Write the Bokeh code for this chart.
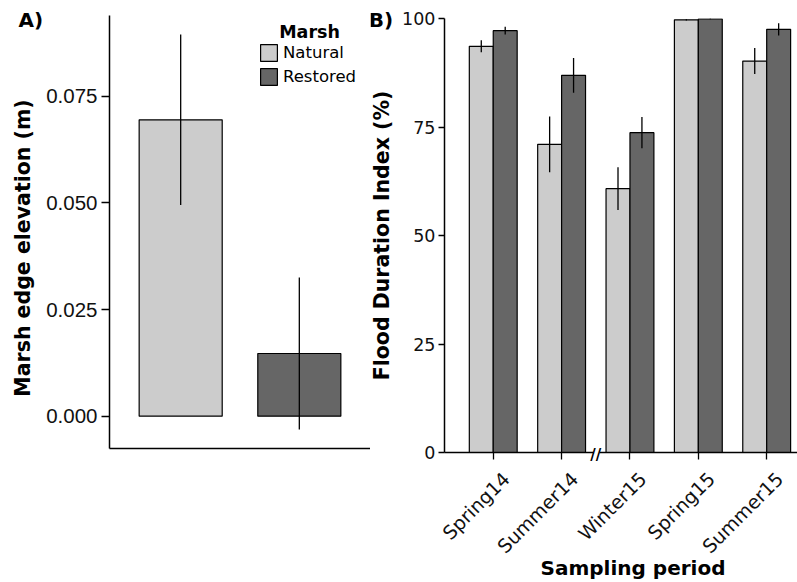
import numpy as np
from bokeh.plotting import figure
from bokeh.models import (Range1d, FixedTicker, Legend, LegendItem, Label,
                          NumeralTickFormatter, LinearAxis)
from bokeh.layouts import row, column
from bokeh.embed import file_html
from bokeh.resources import INLINE

# ---------------- data ----------------
marsh = ["Natural", "Restored"]
elev_mean = [0.0695, 0.0147]
elev_se = [0.0200, 0.0178]
elev_ticks = [0.0, 0.025, 0.050, 0.075]

periods = ["Spring14", "Summer14", "Winter15", "Spring15", "Summer15"]
fdi_natural = [93.6, 71.0, 60.8, 99.7, 90.2]
fdi_natural_se = [1.4, 6.4, 4.9, 0.15, 3.0]
fdi_restored = [97.2, 86.9, 73.7, 99.9, 97.5]
fdi_restored_se = [0.9, 4.0, 3.6, 0.1, 1.4]
fdi_ticks = [0, 25, 50, 75, 100]
break_after = "Summer14"

fill = {"Natural": "#cccccc", "Restored": "#666666"}
SANS = "DejaVu Sans"
ROW_H = 570          # top row (panels); the bottom strip overlaps its last 14 px
BOT_TOP = 556        # page y where the bottom text strip starts
MID = 0.346  # (ascent - descent) / 2 of DejaVu Sans, in em


def blank(width, height, x0, y_top=0):
    """figure used only as a text canvas (data units = page pixels)"""
    f = figure(width=width, height=height, x_range=Range1d(x0, x0 + width),
               y_range=Range1d(y_top + height, y_top), output_backend="svg",
               toolbar_location=None, x_axis_location=None, y_axis_location=None,
               min_border=0, frame_align=False)
    f.outline_line_color = None
    f.grid.visible = False
    return f


def bold_label(x, y, text, size=20.0, align="left", angle=0):
    return Label(x=x, y=y, text=text, text_font=SANS, text_font_style="bold",
                 text_font_size=f"{size}px", text_color="black", text_align=align,
                 text_baseline="middle", angle=angle)


# ---------------- left text strip (A) ----------------
fa = blank(43, ROW_H, 0)
fa.add_layout(bold_label(18, 26.7 - MID * 20, "A)"))
fa.add_layout(bold_label(29.8 - MID * 20.5, 247.5, "Marsh edge elevation (m)",
                         size=20.5, align="center", angle=np.pi / 2))

# ---------------- panel A ----------------
A_W = 327
A_L, A_R, A_T = 64, 0, 15
A_B = ROW_H - 448
A_FW, A_FH = A_W - A_L - A_R, ROW_H - A_T - A_B
xa = Range1d(0.4, 2.6)
ya = Range1d(-0.00757, 0.09396)

pa = figure(width=A_W, height=ROW_H, x_range=xa, y_range=ya,
            output_backend="svg", toolbar_location=None, frame_align=False,
            min_border_left=A_L, min_border_right=A_R,
            min_border_top=A_T, min_border_bottom=A_B)
pa.outline_line_color = None
pa.grid.visible = False

xpos = np.arange(1, len(marsh) + 1)
rends = []
for i, m in enumerate(marsh):
    r = pa.vbar(x=[xpos[i]], top=[elev_mean[i]], bottom=0, width=0.7,
                fill_color=fill[m], line_color="black", line_width=1.2)
    rends.append(r)
pa.segment(x0=xpos, y0=[m - s for m, s in zip(elev_mean, elev_se)],
           x1=xpos, y1=[m + s for m, s in zip(elev_mean, elev_se)],
           line_color="black", line_width=1.3)

pa.xaxis.ticker = FixedTicker(ticks=[])
pa.xaxis.axis_line_width = 1.5
pa.xaxis.major_tick_line_color = None
pa.xaxis.minor_tick_line_color = None

pa.yaxis.ticker = FixedTicker(ticks=elev_ticks)
pa.yaxis.formatter = NumeralTickFormatter(format="0.000")
pa.yaxis.axis_line_width = 1.5
pa.yaxis.major_tick_line_width = 1.3
pa.yaxis.major_tick_out = 8
pa.yaxis.major_tick_in = 0
pa.yaxis.minor_tick_line_color = None
pa.yaxis.major_label_standoff = 4
pa.yaxis.major_label_text_font = "Liberation Sans"
pa.yaxis.major_label_text_font_size = "20.5px"
pa.yaxis.major_label_text_color = "#111111"

FRAME_A_LEFT = 43 + A_L


def ax_of(px):  # page x -> data x (panel A)
    return xa.start + (px - FRAME_A_LEFT) * (xa.end - xa.start) / A_FW


def ay_of(py):  # page y -> data y (panel A)
    return ya.start + (A_T + A_FH - py) * (ya.end - ya.start) / A_FH


legend = Legend(items=[LegendItem(label=m, renderers=[r]) for m, r in zip(marsh, rends)],
                location=(149, 361),
                label_text_font=SANS, label_text_font_size="16.5px", label_text_color="black",
                glyph_width=21, glyph_height=21, label_height=21, spacing=3,
                padding=0, margin=0, label_standoff=4,
                border_line_color=None, background_fill_alpha=0)
pa.add_layout(legend)
pa.add_layout(bold_label(ax_of(278), ay_of(37.5 - MID * 17.5), "Marsh", size=17.5))

# ---------------- middle text strip (B) ----------------
fb = blank(29, ROW_H, 370)
fb.add_layout(bold_label(392.7, 26.0 - MID * 20, "B)", align="right"))
fb.add_layout(bold_label(388.3 - MID * 20.5, 235.0, "Flood Duration Index (%)",
                         size=20.5, align="center", angle=np.pi / 2))

# ---------------- panel B ----------------
B_W = 398
B_L, B_R, B_T = 43, 0, 18
B_B = ROW_H - 452
B_FW, B_FH = B_W - B_L - B_R, ROW_H - B_T - B_B
xb = Range1d(0.287, 0.287 + B_FW / 68.75)
yb = Range1d(0, 100)
PXU = B_FW / (xb.end - xb.start)  # pixels per x unit

pb = figure(width=B_W, height=ROW_H, x_range=xb, y_range=yb,
            output_backend="svg", toolbar_location=None, frame_align=False,
            min_border_left=B_L, min_border_right=B_R,
            min_border_top=B_T, min_border_bottom=B_B)
pb.outline_line_color = None
pb.grid.visible = False

idx = np.arange(1, len(periods) + 1)
dodge = 0.175
pb.vbar(x=idx - dodge, top=fdi_natural, bottom=0, width=0.35,
        fill_color=fill["Natural"], line_color="black", line_width=1.2)
pb.vbar(x=idx + dodge, top=fdi_restored, bottom=0, width=0.35,
        fill_color=fill["Restored"], line_color="black", line_width=1.2)
for off, mean, se in [(-dodge, fdi_natural, fdi_natural_se), (dodge, fdi_restored, fdi_restored_se)]:
    xs = idx + off
    pb.segment(x0=xs, y0=[m - s for m, s in zip(mean, se)],
               x1=xs, y1=[min(m + s, 100) for m, s in zip(mean, se)],
               line_color="black", line_width=1.3)

# axis 1: line (with a gap at the break) and tick marks
xc = float(periods.index(break_after) + 1.5)
gap_start = int(round((xc - xb.start) * PXU - 3))
tick_axis = pb.xaxis[0]
tick_axis.ticker = FixedTicker(ticks=[float(i) for i in idx])
tick_axis.major_label_overrides = {float(i): "" for i in idx}
tick_axis.major_label_text_font_size = "0px"
tick_axis.major_label_standoff = 0
tick_axis.axis_line_width = 1.5
tick_axis.axis_line_dash = f"{gap_start} 6 2000"
tick_axis.major_tick_line_width = 1.3
tick_axis.major_tick_out = 7
tick_axis.major_tick_in = 0
tick_axis.minor_tick_line_color = None

# axis 2: the break mark
brk_axis = LinearAxis(ticker=FixedTicker(ticks=[xc]), major_label_overrides={xc: "//"},
                      axis_line_color=None, major_tick_line_color=None,
                      minor_tick_line_color=None, major_tick_out=0, major_tick_in=0,
                      major_label_standoff=-14, major_label_text_font=SANS,
                      major_label_text_font_style="bold", major_label_text_font_size="15px",
                      major_label_text_color="black")
pb.add_layout(brk_axis, "below")

# axis 3: rotated sampling-period labels
shift = 13 / PXU
label_pos = [round(float(i) + shift, 6) for i in idx]
lab_axis = LinearAxis(ticker=FixedTicker(ticks=label_pos),
                      major_label_overrides={p: s for p, s in zip(label_pos, periods)},
                      axis_line_color=None, major_tick_line_color=None,
                      minor_tick_line_color=None, major_tick_out=0, major_tick_in=0,
                      major_label_standoff=9, major_label_orientation=np.pi / 4,
                      major_label_text_font=SANS, major_label_text_font_size="19px",
                      major_label_text_color="#111111")
pb.add_layout(lab_axis, "below")

pb.yaxis.ticker = FixedTicker(ticks=fdi_ticks)
pb.yaxis.axis_line_width = 1.5
pb.yaxis.major_tick_line_width = 1.3
pb.yaxis.major_tick_out = 6
pb.yaxis.major_tick_in = 0
pb.yaxis.minor_tick_line_color = None
pb.yaxis.major_label_standoff = 3
pb.yaxis.major_label_text_font = SANS
pb.yaxis.major_label_text_font_size = "17.5px"
pb.yaxis.major_label_text_color = "#111111"

# ---------------- bottom text strip (pulled up over the row's empty margin) ----------------
fbot = blank(797, 582 - BOT_TOP, 0, y_top=BOT_TOP)
fbot.background_fill_alpha = 0
fbot.border_fill_alpha = 0
fbot.margin = (BOT_TOP - ROW_H, 0, 0, 0)
fbot.add_layout(bold_label(632.5, 574.5 - MID * 20, "Sampling period", align="center"))

layout = column(row(fa, pa, fb, pb), fbot)
open("out.html", "w").write(file_html(layout, INLINE))
